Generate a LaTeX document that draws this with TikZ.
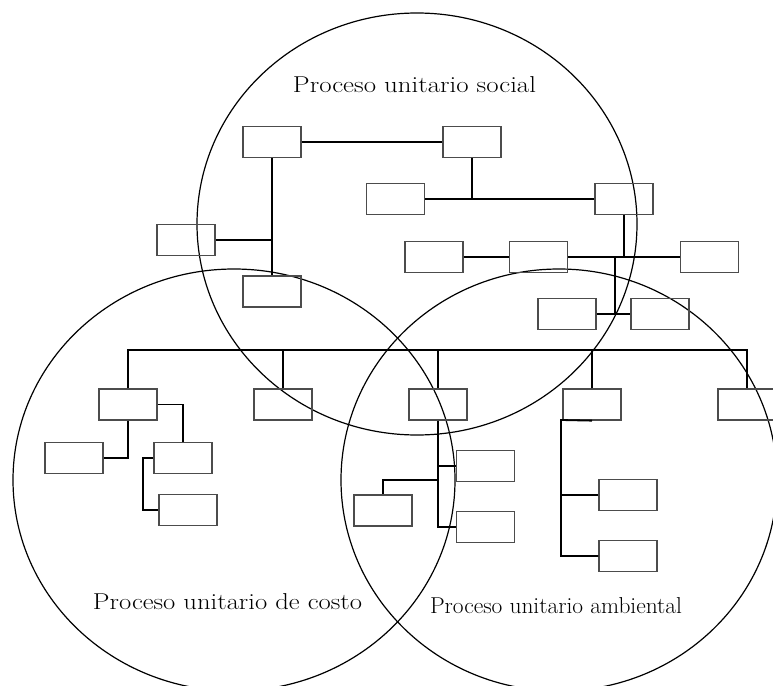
\documentclass[tikz,border=0pt]{standalone}
\usepackage{graphicx}
\tikzset{
  bx/.style={draw=black!70, line width=1.3bp, minimum width=58bp, minimum height=31bp, inner sep=0pt, fill=none},
  conn/.style={draw=black, line width=1.8bp},
  circ/.style={draw=black, line width=1.2bp},
  lbl/.style={inner sep=0pt, anchor=base}
}
\newcommand{\lbltext}[2]{\resizebox{#1}{\height}{\fontsize{23bp}{27bp}\selectfont #2}}
\begin{document}
\begin{tikzpicture}[x=1bp, y=-1bp]
\useasboundingbox (0,0) rectangle (773,686);
\fill[white] (0,0) rectangle (773,686);
% circles
\draw[circ] (417,224) ellipse [x radius=220, y radius=211];
\draw[circ] (234,480) ellipse [x radius=221, y radius=211];
\draw[circ] (559,480) ellipse [x radius=218, y radius=211];
% labels
\node[lbl] (tsoc) at (414.5,92.5) {\lbltext{243bp}{Proceso unitario social}};
\node[lbl] (tcos) at (227.5,609) {\lbltext{269bp}{Proceso unitario de costo}};
\node[lbl] (tamb) at (556,613) {\lbltext{252bp}{Proceso unitario ambiental}};
% boxes top tree
\node[bx] (A) at (272,142) {};
\node[bx] (B) at (472,142) {};
\node[bx] (C) at (395.5,199) {};
\node[bx] (D) at (186,240) {};
\node[bx] (E) at (272,291.5) {};
\node[bx] (F) at (434,257) {};
\node[bx] (G) at (624,199) {};
\node[bx] (H) at (538.5,257) {};
\node[bx] (I) at (709.5,257) {};
\node[bx] (J) at (567,314) {};
\node[bx] (K) at (660,314) {};
% lower row
\node[bx] (O) at (128,404.5) {};
\node[bx] (P) at (283,404.5) {};
\node[bx] (L) at (438,404.5) {};
\node[bx] (M) at (592,404.5) {};
\node[bx] (N) at (747,404.5) {};
\node[bx] (Q) at (183,458) {};
\node[bx] (R) at (74,458) {};
\node[bx] (S) at (188,510) {};
\node[bx] (T) at (485.5,527) {};
\node[bx] (U) at (485.5,466) {};
\node[bx] (V) at (383,510.5) {};
\node[bx] (W) at (628,495) {};
\node[bx] (X) at (628,556) {};
% coordinates
\coordinate (jk) at (615,257);
\coordinate (bus) at (0,350);
\coordinate (qs) at (143,458);
\coordinate (lv) at (438,480);
\coordinate (mc) at (561,420);
% top tree connectors
\draw[conn] (A.east) -- (B.west);
\draw[conn] (A.south) -- (E.north);
\draw[conn] (D.east) -- (D.east -| A.south);
\draw[conn] (B.south) -- (B.south |- C.east);
\draw[conn] (C.east) -- (G.west);
\draw[conn] (G.south) -- (G.south |- H.east);
\draw[conn] (F.east) -- (H.west);
\draw[conn] (H.east) -- (I.west);
\draw[conn] (jk) -- (jk |- J.east);
\draw[conn] (J.east) -- (K.west);
% bus
\draw[conn] (O.north) -- (O.north |- bus) -- (N.north |- bus) -- (N.north);
\draw[conn] (P.north) -- (P.north |- bus);
\draw[conn] (L.north) -- (L.north |- bus);
\draw[conn] (M.north) -- (M.north |- bus);
% costo subtree
\draw[conn] (O.east) -| (Q.north);
\draw[conn] (O.south) |- (R.east);
\draw[conn] (Q.west) -- (qs) |- (S.west);
% L subtree
\draw[conn] (L.south) |- (T.west);
\draw[conn] (U.west) -- (U.west -| L.south);
\draw[conn] (lv) -| (V.north);
% M subtree
\draw[conn] (M.south) -- (mc) |- (X.west);
\draw[conn] (W.west) -- (W.west -| mc);
\end{tikzpicture}
\end{document}
